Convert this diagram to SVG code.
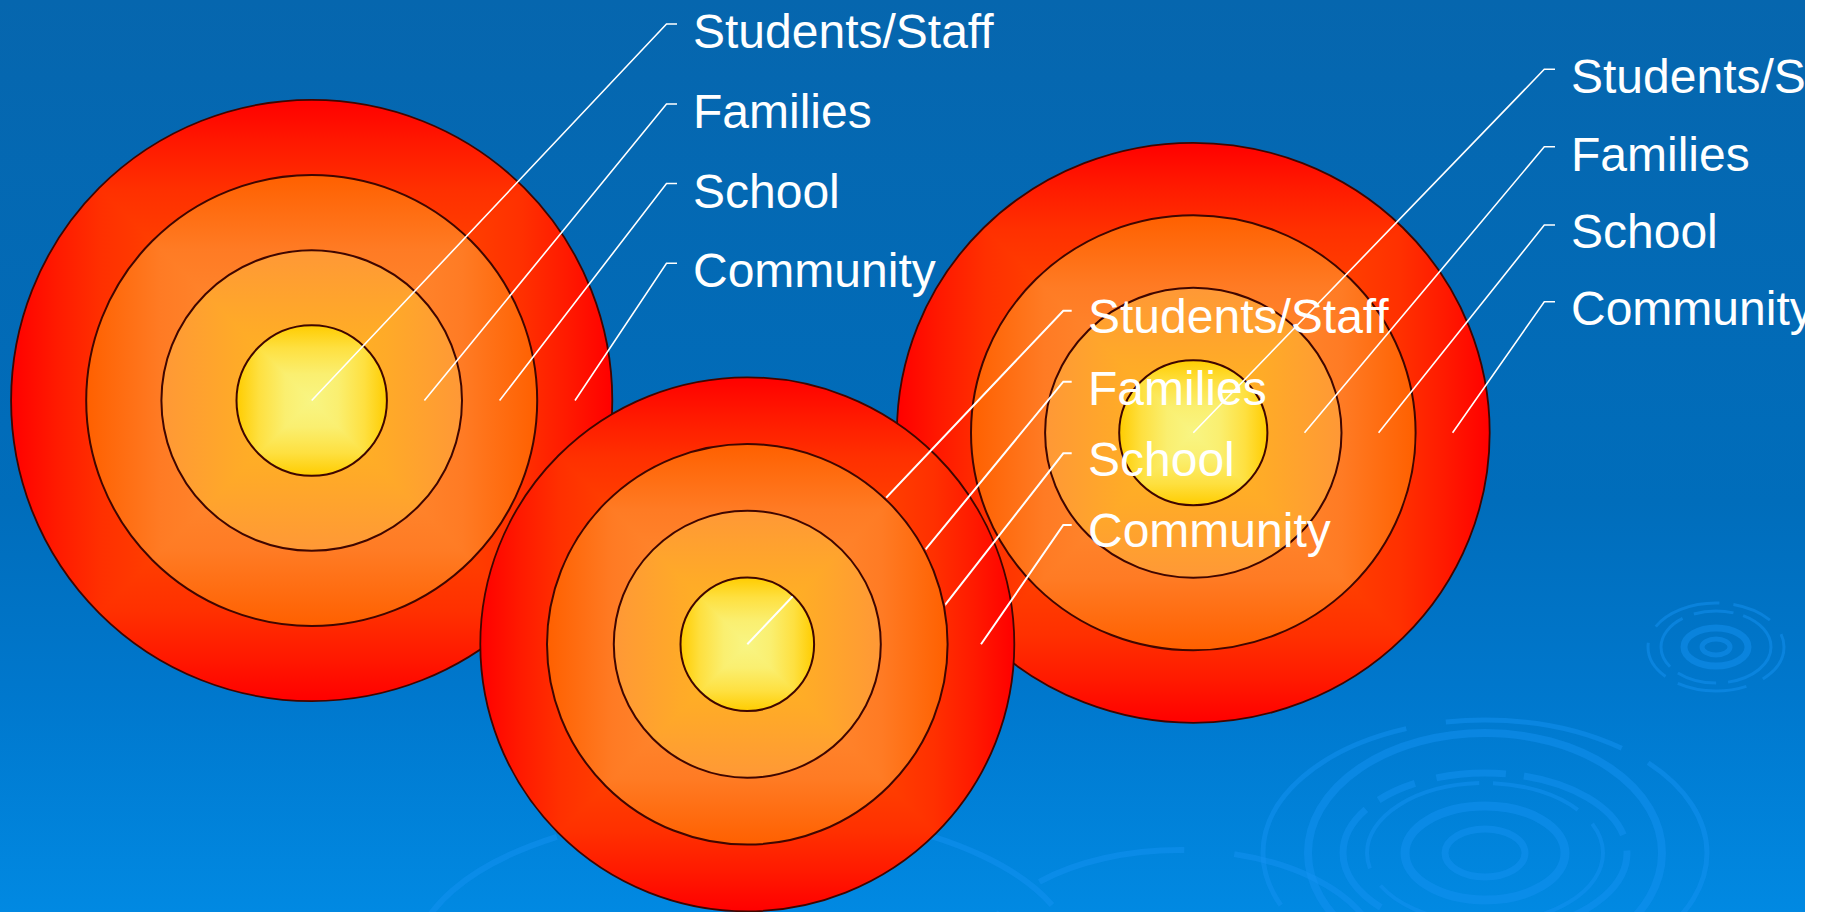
<svg xmlns="http://www.w3.org/2000/svg" width="1829" height="912" viewBox="0 0 1829 912">
<style>
.ring{fill:none;stroke:#3f0600;stroke-width:2}
.lead{fill:none;stroke:#ffffff;stroke-width:1.6}
.leadm{fill:none;stroke:#ffffff;stroke-width:2}
.lbl{font-family:"Liberation Sans",Arial,sans-serif;font-size:48px;fill:#ffffff}
.rip{fill:none;stroke:#1492f2;stroke-opacity:0.5}
</style>
<defs>
<linearGradient id="bg" x1="0" y1="0" x2="0" y2="1">
<stop offset="0" stop-color="#0666ae"/>
<stop offset="0.55" stop-color="#006dbb"/>
<stop offset="0.75" stop-color="#0077cc"/>
<stop offset="1" stop-color="#0189e2"/>
</linearGradient>
<linearGradient id="h1" x1="0" y1="0" x2="1" y2="0">
<stop offset="0" stop-color="#ff0000"/><stop offset="0.075" stop-color="#ff1a00"/><stop offset="0.15" stop-color="#ff3000"/><stop offset="0.25" stop-color="#ff4000"/><stop offset="0.5" stop-color="#ff6000"/><stop offset="0.75" stop-color="#ff4000"/><stop offset="0.85" stop-color="#ff3000"/><stop offset="0.925" stop-color="#ff1a00"/><stop offset="1" stop-color="#ff0000"/>
</linearGradient>
<linearGradient id="v1" href="#h1" x1="0" y1="0" x2="0" y2="1"/>
<linearGradient id="h2" x1="0" y1="0" x2="1" y2="0">
<stop offset="0" stop-color="#ff6000"/><stop offset="0.165" stop-color="#ff7b24"/><stop offset="0.35" stop-color="#ff8a30"/><stop offset="0.5" stop-color="#ff9030"/><stop offset="0.65" stop-color="#ff8a30"/><stop offset="0.835" stop-color="#ff7b24"/><stop offset="1" stop-color="#ff6000"/>
</linearGradient>
<linearGradient id="v2" href="#h2" x1="0" y1="0" x2="0" y2="1"/>
<linearGradient id="h3" x1="0" y1="0" x2="1" y2="0">
<stop offset="0" stop-color="#ff9836"/><stop offset="0.25" stop-color="#ffaa28"/><stop offset="0.5" stop-color="#ffb820"/><stop offset="0.75" stop-color="#ffaa28"/><stop offset="1" stop-color="#ff9836"/>
</linearGradient>
<linearGradient id="v3" href="#h3" x1="0" y1="0" x2="0" y2="1"/>
<linearGradient id="h4" x1="0" y1="0" x2="1" y2="0">
<stop offset="0" stop-color="#ffcc00"/><stop offset="0.15" stop-color="#fee040"/><stop offset="0.325" stop-color="#faef70"/><stop offset="0.5" stop-color="#f8f583"/><stop offset="0.675" stop-color="#faef70"/><stop offset="0.85" stop-color="#fee040"/><stop offset="1" stop-color="#ffcc00"/>
</linearGradient>
<linearGradient id="v4" href="#h4" x1="0" y1="0" x2="0" y2="1"/>
<clipPath id="cb" clipPathUnits="objectBoundingBox"><ellipse cx="0.5" cy="0.5" rx="0.5" ry="0.5"/></clipPath>
<clipPath id="slide"><rect x="0" y="0" width="1805" height="912"/></clipPath>
<mask id="mm" maskUnits="userSpaceOnUse" x="0" y="0" width="1829" height="912">
<rect x="0" y="0" width="1829" height="912" fill="#fff"/>
<circle cx="747.3" cy="644.3" r="202" fill="#000"/>
<circle cx="747.3" cy="644.3" r="66" fill="#fff"/>
</mask>
</defs>

<rect x="0" y="0" width="1829" height="912" fill="#ffffff"/>
<g clip-path="url(#slide)">
<rect id="background" x="0" y="0" width="1805" height="912" fill="url(#bg)"/>

<g id="ripples">
<ellipse class="rip" cx="1485" cy="853" rx="40" ry="24" stroke-width="7"/>
<ellipse class="rip" cx="1485" cy="853" rx="80" ry="47" stroke-width="9"/>
<ellipse class="rip" cx="1485" cy="853" rx="118" ry="70" stroke-width="4" stroke-dasharray="160 14 90 20"/>
<ellipse class="rip" cx="1485" cy="853" rx="142" ry="80" stroke-width="7" stroke-dasharray="120 16 40 22 70 18"/>
<ellipse class="rip" cx="1485" cy="853" rx="177" ry="120" stroke-width="8"/>
<ellipse class="rip" cx="1485" cy="853" rx="222" ry="133" stroke-width="5" stroke-dasharray="260 40 180 30"/>
<ellipse class="rip" cx="1716" cy="647" rx="14" ry="8" stroke-width="5"/>
<ellipse class="rip" cx="1716" cy="647" rx="32" ry="19" stroke-width="7"/>
<ellipse class="rip" cx="1716" cy="647" rx="55" ry="36" stroke-width="3" stroke-dasharray="60 12 40 10"/>
<ellipse class="rip" cx="1716" cy="647" rx="68" ry="44" stroke-width="3" stroke-dasharray="40 18 70 14"/>
<ellipse class="rip" cx="745" cy="960" rx="330" ry="150" stroke-width="6" stroke-opacity="0.14" stroke-dasharray="200 60"/>
<ellipse class="rip" cx="1180" cy="960" rx="200" ry="110" stroke-width="6" stroke-opacity="0.14" stroke-dasharray="150 50"/>
</g>

<g id="circle-left">
<ellipse cx="311.7" cy="400.5" rx="300.6" ry="300.6" fill="url(#h1)"/>
<path d="M11.1 99.9L612.3 99.9L311.7 400.5ZM11.1 701.1L612.3 701.1L311.7 400.5Z" fill="url(#v1)" clip-path="url(#cb)"/>
<ellipse class="ring" cx="311.7" cy="400.5" rx="300.6" ry="300.6" style="stroke-width:1.8"/>
<ellipse cx="311.7" cy="400.5" rx="225.5" ry="225.5" fill="url(#h2)"/>
<path d="M86.2 175L537.2 175L311.7 400.5ZM86.2 626L537.2 626L311.7 400.5Z" fill="url(#v2)" clip-path="url(#cb)"/>
<ellipse class="ring" cx="311.7" cy="400.5" rx="225.5" ry="225.5"/>
<ellipse cx="311.7" cy="400.5" rx="150.3" ry="150.3" fill="url(#h3)"/>
<path d="M161.4 250.2L462 250.2L311.7 400.5ZM161.4 550.8L462 550.8L311.7 400.5Z" fill="url(#v3)" clip-path="url(#cb)"/>
<ellipse class="ring" cx="311.7" cy="400.5" rx="150.3" ry="150.3"/>
<ellipse cx="311.7" cy="400.5" rx="75.2" ry="75.2" fill="url(#h4)"/>
<path d="M236.5 325.3L386.9 325.3L311.7 400.5ZM236.5 475.7L386.9 475.7L311.7 400.5Z" fill="url(#v4)" clip-path="url(#cb)"/>
<ellipse class="ring" cx="311.7" cy="400.5" rx="75.2" ry="75.2"/>
</g>

<g id="labels-left">
<g id="connectors-left">
<path class="lead" d="M677 24H666.5L311.7 400.5"/>
<path class="lead" d="M677 104H666.5L424.4 400.5"/>
<path class="lead" d="M677 183.5H666.5L499.6 400.5"/>
<path class="lead" d="M677 263.3H666.5L575 400.5"/>
</g>
<text class="lbl" x="693" y="48.3">Students/Staff</text>
<text class="lbl" x="693" y="128">Families</text>
<text class="lbl" x="693" y="207.7">School</text>
<text class="lbl" x="693" y="287.3">Community</text>
</g>

<g id="circle-right">
<ellipse cx="1193.3" cy="432.8" rx="296.4" ry="290" fill="url(#h1)"/>
<path d="M896.9 142.8L1489.7 142.8L1193.3 432.8ZM896.9 722.8L1489.7 722.8L1193.3 432.8Z" fill="url(#v1)" clip-path="url(#cb)"/>
<ellipse class="ring" cx="1193.3" cy="432.8" rx="296.4" ry="290" style="stroke-width:1.8"/>
<ellipse cx="1193.3" cy="432.8" rx="222.3" ry="217.5" fill="url(#h2)"/>
<path d="M971 215.3L1415.6 215.3L1193.3 432.8ZM971 650.3L1415.6 650.3L1193.3 432.8Z" fill="url(#v2)" clip-path="url(#cb)"/>
<ellipse class="ring" cx="1193.3" cy="432.8" rx="222.3" ry="217.5"/>
<ellipse cx="1193.3" cy="432.8" rx="148.2" ry="145" fill="url(#h3)"/>
<path d="M1045.1 287.8L1341.5 287.8L1193.3 432.8ZM1045.1 577.8L1341.5 577.8L1193.3 432.8Z" fill="url(#v3)" clip-path="url(#cb)"/>
<ellipse class="ring" cx="1193.3" cy="432.8" rx="148.2" ry="145"/>
<ellipse cx="1193.3" cy="432.8" rx="74.1" ry="72.5" fill="url(#h4)"/>
<path d="M1119.2 360.3L1267.4 360.3L1193.3 432.8ZM1119.2 505.3L1267.4 505.3L1193.3 432.8Z" fill="url(#v4)" clip-path="url(#cb)"/>
<ellipse class="ring" cx="1193.3" cy="432.8" rx="74.1" ry="72.5"/>
</g>

<g id="labels-right">
<g id="connectors-right">
<path class="lead" d="M1555 69.3H1544.3L1193.3 432.8"/>
<path class="lead" d="M1555 146.8H1544.3L1304.5 432.8"/>
<path class="lead" d="M1555 225H1544.3L1378.6 432.8"/>
<path class="lead" d="M1555 301.7H1544.3L1452.6 432.8"/>
</g>
<text class="lbl" x="1571" y="93.3">Students/Staff</text>
<text class="lbl" x="1571" y="170.5">Families</text>
<text class="lbl" x="1571" y="248">School</text>
<text class="lbl" x="1571" y="325.3">Community</text>
</g>

<g id="circle-middle">
<ellipse cx="747.3" cy="644.3" rx="267" ry="267" fill="url(#h1)"/>
<path d="M480.3 377.3L1014.3 377.3L747.3 644.3ZM480.3 911.3L1014.3 911.3L747.3 644.3Z" fill="url(#v1)" clip-path="url(#cb)"/>
<ellipse class="ring" cx="747.3" cy="644.3" rx="267" ry="267" style="stroke-width:1.8"/>
<ellipse cx="747.3" cy="644.3" rx="200.3" ry="200.3" fill="url(#h2)"/>
<path d="M547 444L947.6 444L747.3 644.3ZM547 844.6L947.6 844.6L747.3 644.3Z" fill="url(#v2)" clip-path="url(#cb)"/>
<ellipse class="ring" cx="747.3" cy="644.3" rx="200.3" ry="200.3"/>
<ellipse cx="747.3" cy="644.3" rx="133.5" ry="133.5" fill="url(#h3)"/>
<path d="M613.8 510.8L880.8 510.8L747.3 644.3ZM613.8 777.8L880.8 777.8L747.3 644.3Z" fill="url(#v3)" clip-path="url(#cb)"/>
<ellipse class="ring" cx="747.3" cy="644.3" rx="133.5" ry="133.5"/>
<ellipse cx="747.3" cy="644.3" rx="66.8" ry="66.8" fill="url(#h4)"/>
<path d="M680.5 577.5L814.1 577.5L747.3 644.3ZM680.5 711.1L814.1 711.1L747.3 644.3Z" fill="url(#v4)" clip-path="url(#cb)"/>
<ellipse class="ring" cx="747.3" cy="644.3" rx="66.8" ry="66.8"/>
</g>

<g id="labels-middle">
<g id="connectors-middle" mask="url(#mm)">
<path class="leadm" d="M1071.7 310.7H1063.3L747.3 644.3"/>
<path class="leadm" d="M1071.7 381.7H1063.3L847.5 644.3"/>
<path class="leadm" d="M1071.7 453.3H1063.3L914.3 644.3"/>
<path class="leadm" d="M1071.7 525H1063.3L981 644.3"/>
</g>
<text class="lbl" x="1088" y="333.3">Students/Staff</text>
<text class="lbl" x="1088" y="404.8">Families</text>
<text class="lbl" x="1088" y="476.3">School</text>
<text class="lbl" x="1088" y="546.7">Community</text>
</g>
</g>
</svg>
